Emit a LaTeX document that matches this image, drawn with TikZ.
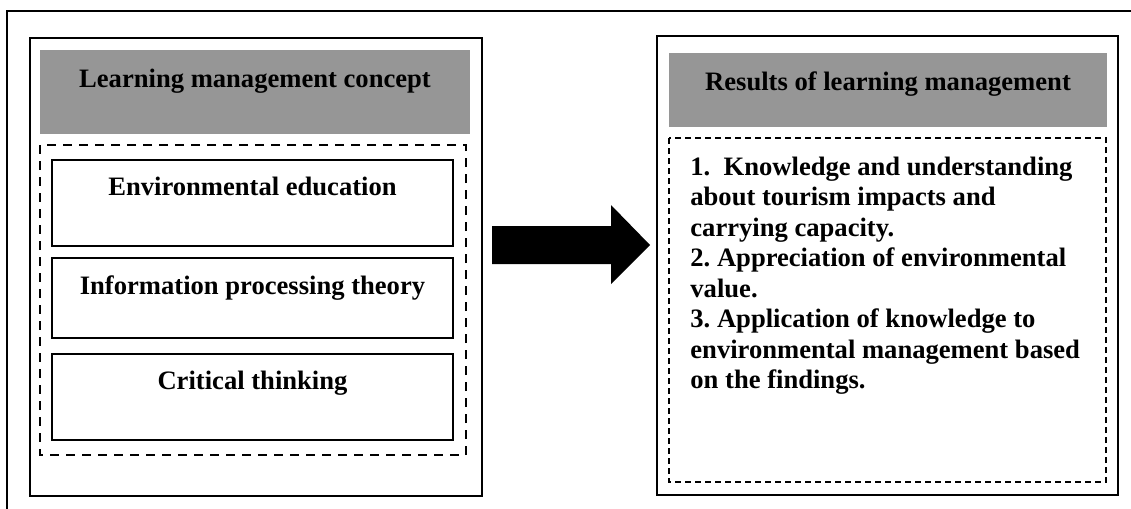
\documentclass[tikz,border=0pt]{standalone}
\usepackage{fontspec}
\setmainfont{Liberation Serif}
\definecolor{hdrgray}{RGB}{150,150,150}
\newcommand{\lbl}{\fontsize{13.3}{15.25}\selectfont\bfseries\frenchspacing}

\begin{document}
\begin{tikzpicture}[x=0.5pt,y=-0.5pt,
    box/.style={draw,line width=0.85pt},
    dashbox/.style={draw,line width=1.2pt,dash pattern=on 4.5pt off 3.5pt},
    txt/.style={inner sep=0pt,font=\lbl}]
\useasboundingbox (0,0) rectangle (1131,509);
\draw[line width=0.85pt] (7,509) -- (7,11) -- (1131,11);
%% left side
\draw[box] (30,38) rectangle (482,496);
\fill[hdrgray] (40,50) rectangle (470,134);
\node[txt,anchor=base] (lmc) at (255,87) {Learning management concept};
\draw[dashbox] (40,145) rectangle (466,455);
\draw[box] (52,160) rectangle (453,246);
\node[txt,anchor=base] (envedu) at (252.5,195) {Environmental education};
\draw[box] (52,258) rectangle (453,338);
\node[txt,anchor=base] (infoproc) at (252.5,294) {Information processing theory};
\draw[box] (52,354) rectangle (453,440);
\node[txt,anchor=base] (critthink) at (252.5,389) {Critical thinking};
%% arrow
\fill (492,226) -- (611,226) -- (611,205) -- (650,245) -- (611,284) -- (611,264) -- (492,264) -- cycle;
%% right side
\draw[box] (657,36) rectangle (1118,495);
\fill[hdrgray] (669,53) rectangle (1107,127);
\node[txt,anchor=base] (rlm) at (888,90) {Results of learning management};
\draw[dashbox,line width=0.7pt,dash pattern=on 3pt off 2pt] (669,138) rectangle (1106,482);
\node[txt,anchor=base west] (res1) at (690,175) {1.\ \ Knowledge and understanding};
\node[txt,anchor=base west] (res2) at (690,205.5) {about tourism impacts and};
\node[txt,anchor=base west] (res3) at (690,236) {carrying capacity.};
\node[txt,anchor=base west] (res4) at (690,266.5) {2. Appreciation of environmental};
\node[txt,anchor=base west] (res5) at (690,297) {value.};
\node[txt,anchor=base west] (res6) at (690,327.5) {3. Application of knowledge to};
\node[txt,anchor=base west] (res7) at (690,358) {environmental management based};
\node[txt,anchor=base west] (res8) at (690,388.5) {on the findings.};
\end{tikzpicture}
\end{document}
